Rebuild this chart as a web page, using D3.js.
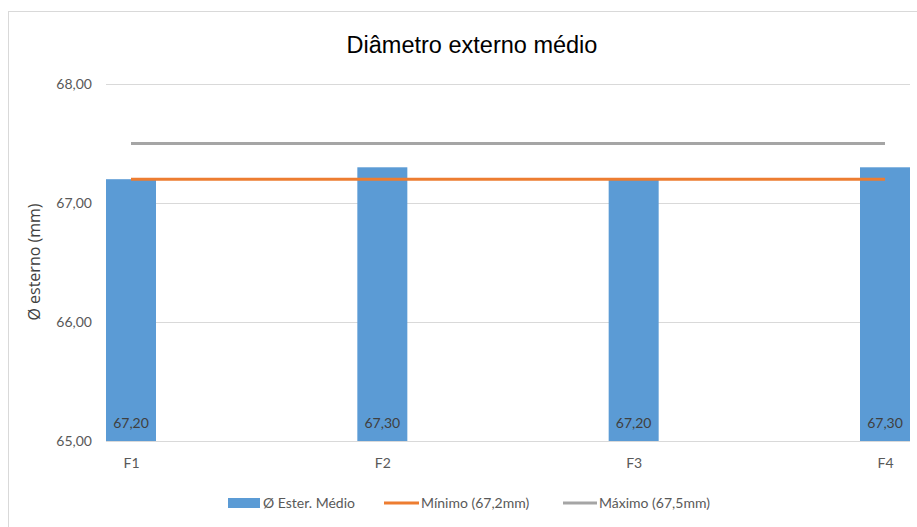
<!DOCTYPE html>
<html>
<head>
<meta charset="utf-8">
<script src="https://cdn.jsdelivr.net/npm/d3@7"></script>
<style>
  html, body { margin: 0; padding: 0; background: #fff; }
  svg { display: block; }
</style>
</head>
<body>
<svg id="chart" width="917" height="527"></svg>
<script>
const categories = ["F1", "F2", "F3", "F4"];
const mediaValues = [67.20, 67.30, 67.20, 67.30];
const minimoValues = [67.2, 67.2, 67.2, 67.2];
const maximoValues = [67.5, 67.5, 67.5, 67.5];
const yTicks = [65, 66, 67, 68];
const seriesNames = ["Ø Ester. Médio", "Mínimo (67,2mm)", "Máximo (67,5mm)"];
const colors = ["#5b9bd5", "#ed7d31", "#a5a5a5"];

const fmt = v => d3.format(".2f")(v).replace(".", ",");
const svg = d3.select("#chart");
const W = 917, H = 527;

// outer border
svg.append("rect").attr("x", 8.5).attr("y", 11.5).attr("width", W).attr("height", H)
  .attr("fill", "#fff").attr("stroke", "#d9d9d9").attr("stroke-width", 1);

const plot = { left: 106, right: 910, top: 84, bottom: 441 };
const y = d3.scaleLinear().domain([65, 68]).range([plot.bottom, plot.top]);
const barW = 50;
const x = d3.scalePoint().domain(categories)
  .range([plot.left + barW / 2, plot.right - barW / 2]);

// title
svg.append("text").attr("x", 472).attr("y", 53).attr("text-anchor", "middle")
  .attr("font-family", "Liberation Sans, Arial, sans-serif").attr("font-size", 23.5)
  .attr("fill", "#000").text("Diâmetro externo médio");

// gridlines
const grid = svg.append("g");
grid.selectAll("line").data(yTicks.filter(t => t !== 65)).join("line")
  .attr("x1", plot.left).attr("x2", plot.right)
  .attr("y1", d => Math.round(y(d)) + 0.5).attr("y2", d => Math.round(y(d)) + 0.5)
  .attr("stroke", "#d9d9d9").attr("stroke-width", 1);

// y axis labels
const yAxis = d3.axisLeft(y).tickValues(yTicks).tickFormat(fmt).tickSize(0).tickPadding(0);
const yg = svg.append("g").attr("transform", `translate(92,0)`).call(yAxis);
yg.select(".domain").remove();
yg.selectAll("text").attr("font-family", "Lato, sans-serif").attr("font-size", 14)
  .attr("fill", "#595959");

// y axis title
svg.append("text").attr("transform", "translate(40,262) rotate(-90)")
  .attr("text-anchor", "middle").attr("font-family", "Open Sans, sans-serif").attr("font-size", 16)
  .attr("fill", "#404040").text("Ø esterno (mm)");

// bars
svg.append("g").selectAll("rect").data(mediaValues).join("rect")
  .attr("x", (d, i) => x(categories[i]) - barW / 2)
  .attr("width", barW)
  .attr("y", d => y(d))
  .attr("height", d => y(65) - y(d))
  .attr("fill", colors[0]);

// baseline
svg.append("line").attr("x1", plot.left).attr("x2", plot.right)
  .attr("y1", plot.bottom + 0.5).attr("y2", plot.bottom + 0.5)
  .attr("stroke", "#d9d9d9").attr("stroke-width", 1);

// bar labels
svg.append("g").selectAll("text").data(mediaValues).join("text")
  .attr("x", (d, i) => x(categories[i]))
  .attr("y", 428)
  .attr("text-anchor", "middle")
  .attr("font-family", "Lato, sans-serif").attr("font-size", 14)
  .attr("fill", "#404040").text(d => fmt(d));

// lines
const line = d3.line().x((d, i) => x(categories[i])).y(d => y(d));
svg.append("path").datum(maximoValues).attr("d", line)
  .attr("fill", "none").attr("stroke", colors[2]).attr("stroke-width", 3);
svg.append("path").datum(minimoValues).attr("d", line)
  .attr("fill", "none").attr("stroke", colors[1]).attr("stroke-width", 3);

// x axis labels
const xAxis = d3.axisBottom(x).tickSize(0).tickPadding(0);
const xg = svg.append("g").attr("transform", `translate(0,${plot.bottom + 22})`).call(xAxis);
xg.select(".domain").remove();
xg.selectAll("text").attr("font-family", "Lato, sans-serif").attr("font-size", 14)
  .attr("fill", "#595959").attr("dy", "0.35em");

// legend
const lg = svg.append("g").attr("font-family", "Lato, sans-serif").attr("font-size", 14).attr("fill", "#595959");
lg.append("rect").attr("x", 228).attr("y", 498).attr("width", 32).attr("height", 10).attr("fill", colors[0]);
lg.append("text").attr("x", 263).attr("y", 508).text(seriesNames[0]);
lg.append("line").attr("x1", 384).attr("x2", 419).attr("y1", 503).attr("y2", 503)
  .attr("stroke", colors[1]).attr("stroke-width", 3);
lg.append("text").attr("x", 421).attr("y", 508).text(seriesNames[1]);
lg.append("line").attr("x1", 563).attr("x2", 597).attr("y1", 503).attr("y2", 503)
  .attr("stroke", colors[2]).attr("stroke-width", 3);
lg.append("text").attr("x", 599).attr("y", 508).text(seriesNames[2]);
</script>
</body>
</html>
